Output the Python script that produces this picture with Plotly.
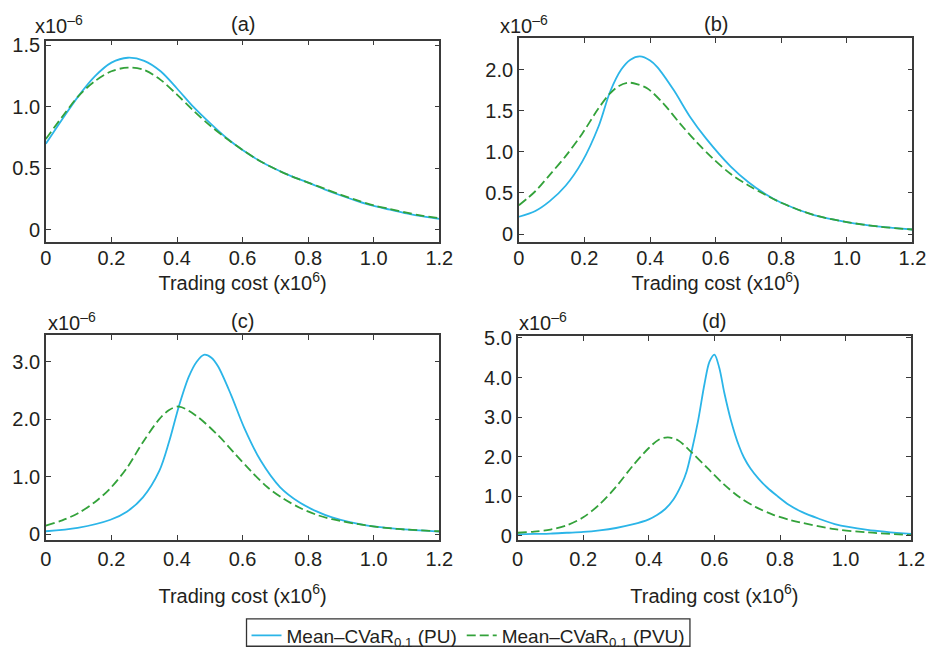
import plotly.graph_objects as go

# ---------------- data (values in units of 1e-6) ----------------
A_X = [0, 0.05, 0.1, 0.15, 0.2, 0.25, 0.3, 0.35, 0.4, 0.45, 0.5, 0.55, 0.6, 0.65,
       0.7, 0.75, 0.8, 0.85, 0.9, 0.95, 1.0, 1.05, 1.1, 1.15, 1.2]
A_PU = [0.70, 0.90, 1.09, 1.25, 1.36, 1.40, 1.375, 1.29, 1.15, 1.00, 0.87, 0.75, 0.65,
        0.565, 0.495, 0.435, 0.385, 0.33, 0.28, 0.235, 0.195, 0.165, 0.135, 0.11, 0.09]
A_PVU = [0.74, 0.92, 1.09, 1.21, 1.29, 1.32, 1.30, 1.22, 1.10, 0.97, 0.85, 0.745, 0.65,
         0.565, 0.495, 0.435, 0.385, 0.335, 0.285, 0.24, 0.20, 0.17, 0.14, 0.115, 0.095]

B_X_PU = [0, 0.05, 0.094, 0.143, 0.193, 0.243, 0.278, 0.312, 0.34, 0.369, 0.40, 0.422,
          0.472, 0.521, 0.571, 0.646, 0.7, 0.75, 0.8, 0.9, 1.0, 1.1, 1.2]
B_PU = [0.21, 0.28, 0.40, 0.59, 0.88, 1.31, 1.73, 2.00, 2.12, 2.16, 2.11, 2.03,
        1.75, 1.43, 1.16, 0.82, 0.63, 0.49, 0.38, 0.23, 0.145, 0.09, 0.055]
B_X_PVU = [0, 0.05, 0.094, 0.143, 0.193, 0.243, 0.278, 0.305, 0.334, 0.362, 0.392, 0.442,
           0.492, 0.541, 0.591, 0.646, 0.7, 0.75, 0.8, 0.9, 1.0, 1.1, 1.2]
B_PVU = [0.35, 0.52, 0.72, 0.95, 1.22, 1.53, 1.71, 1.80, 1.84, 1.82, 1.77, 1.58,
         1.34, 1.12, 0.92, 0.73, 0.59, 0.48, 0.38, 0.23, 0.145, 0.09, 0.055]

C_X_PU = [0, 0.097, 0.197, 0.247, 0.296, 0.346, 0.376, 0.406, 0.436, 0.46, 0.482,
          0.505, 0.525, 0.565, 0.605, 0.655, 0.714, 0.774, 0.824, 0.873, 0.973, 1.072, 1.2]
C_PU = [0.05, 0.11, 0.25, 0.39, 0.64, 1.10, 1.61, 2.23, 2.74, 3.0, 3.12,
        3.07, 2.92, 2.42, 1.85, 1.28, 0.82, 0.55, 0.40, 0.29, 0.155, 0.09, 0.045]
C_X_PVU = [0, 0.05, 0.097, 0.15, 0.197, 0.247, 0.296, 0.346, 0.376, 0.406, 0.456, 0.525,
           0.575, 0.625, 0.675, 0.724, 0.774, 0.824, 0.873, 0.973, 1.072, 1.2]
C_PVU = [0.15, 0.24, 0.36, 0.56, 0.80, 1.15, 1.60, 2.0, 2.16, 2.22, 2.07, 1.72,
         1.41, 1.10, 0.82, 0.62, 0.46, 0.34, 0.26, 0.155, 0.09, 0.05]

D_X_PU = [0, 0.05, 0.1, 0.15, 0.2, 0.25, 0.3, 0.35, 0.4, 0.425, 0.45, 0.475, 0.5, 0.515,
          0.53, 0.55, 0.57, 0.585, 0.6, 0.615, 0.63, 0.65, 0.675, 0.69, 0.71, 0.735, 0.76,
          0.79, 0.828, 0.868, 0.917, 0.967, 1.067, 1.2]
D_PU = [0.04, 0.05, 0.06, 0.08, 0.10, 0.14, 0.20, 0.29, 0.42, 0.53, 0.68, 0.92, 1.30, 1.62,
        2.12, 2.90, 3.85, 4.40, 4.58, 4.24, 3.62, 2.93, 2.27, 1.98, 1.70, 1.44, 1.23,
        1.02, 0.78, 0.60, 0.44, 0.30, 0.155, 0.05]
D_X_PVU = [0, 0.05, 0.1, 0.15, 0.2, 0.25, 0.3, 0.35, 0.4, 0.43, 0.458, 0.49, 0.529, 0.579,
           0.629, 0.678, 0.728, 0.778, 0.828, 0.868, 0.967, 1.067, 1.2]
D_PVU = [0.08, 0.11, 0.16, 0.27, 0.47, 0.80, 1.24, 1.76, 2.22, 2.43, 2.49, 2.41, 2.12, 1.71,
         1.30, 0.97, 0.72, 0.54, 0.41, 0.33, 0.17, 0.09, 0.02]

PANEL_TITLES = ["(a)", "(b)", "(c)", "(d)"]
SERIES_NAMES = ["Mean\u2013CVaR<sub>0.1</sub> (PU)", "Mean\u2013CVaR<sub>0.1</sub> (PVU)"]
X_TICKS = [0, 0.2, 0.4, 0.6, 0.8, 1.0, 1.2]
X_TICKTEXT = ["0", "0.2", "0.4", "0.6", "0.8", "1.0", "1.2"]
Y_TICKS = [[0, 0.5, 1.0, 1.5], [0, 0.5, 1.0, 1.5, 2.0], [0, 1.0, 2.0, 3.0],
           [0, 1.0, 2.0, 3.0, 4.0, 5.0]]
Y_TICKTEXT = [["0", "0.5", "1.0", "1.5"], ["0", "0.5", "1.0", "1.5", "2.0"],
              ["0", "1.0", "2.0", "3.0"], ["0", "1.0", "2.0", "3.0", "4.0", "5.0"]]
Y_RANGES = [[-0.1, 1.54], [-0.1, 2.38], [-0.1, 3.46], [-0.1, 5.05]]
X_TITLE = "Trading cost (x10<sup>6</sup>)"
SCALE_LABEL = "x10<sup>\u20136</sup>"

PANELS = [(A_X, A_PU, A_X, A_PVU), (B_X_PU, B_PU, B_X_PVU, B_PVU),
          (C_X_PU, C_PU, C_X_PVU, C_PVU), (D_X_PU, D_PU, D_X_PVU, D_PVU)]

# ---------------- layout geometry (pixels) ----------------
W, H = 947, 664
BOXES = [(40.7, 442.7, 32.3, 239), (524, 926, 30, 239),
         (40.7, 442.7, 334.3, 544), (522.7, 924.7, 335, 544)]
SCALE_POS = [(28, 16), (503, 16), (41, 320), (522, 320)]
TITLE_Y = [15, 15, 320, 320]
TICK_STANDOFF = [-3, -3, 0, 0]
TITLE_STANDOFF = [3, 3, 20, 20]
LEGEND_BOX = (245.7, 698.7, 625, 653)
LEGEND_CENTER = (472.5, 642)

BLUE = "#2BB5E8"
GREEN = "#33A23A"
TXT = "#231F20"
AX = "#3a3a3a"
FONT = "Liberation Sans, Arial, sans-serif"
FS = 20
LEGEND_FS = 19

fig = go.Figure()
annotations = []
for i, (xp, yp, xv, yv) in enumerate(PANELS):
    sfx = "" if i == 0 else str(i + 1)
    fig.add_trace(go.Scatter(x=xp, y=yp, mode="lines", name=SERIES_NAMES[0],
                             line=dict(color=BLUE, width=1.8, shape="spline", smoothing=0.9),
                             showlegend=(i == 0), legendrank=1,
                             xaxis="x" + sfx, yaxis="y" + sfx))
    fig.add_trace(go.Scatter(x=xv, y=yv, mode="lines", name=SERIES_NAMES[1],
                             line=dict(color=GREEN, width=1.8, dash="9px,4px",
                                       shape="spline", smoothing=0.9),
                             showlegend=(i == 0), legendrank=2,
                             xaxis="x" + sfx, yaxis="y" + sfx))
    x0, x1, y0, y1 = BOXES[i]
    xd = [x0 / W, x1 / W]
    yd = [1 - y1 / H, 1 - y0 / H]
    common = dict(showline=True, mirror="ticks", linecolor=AX, linewidth=1.5,
                  ticks="inside", ticklen=5, tickwidth=1.3, tickcolor=AX,
                  showgrid=False, zeroline=False,
                  tickfont=dict(family=FONT, size=FS, color=TXT))
    fig.layout["xaxis" + sfx] = dict(domain=xd, range=[0, 1.2], tickvals=X_TICKS,
                                     ticktext=X_TICKTEXT, anchor="y" + sfx,
                                     ticklabelstandoff=TICK_STANDOFF[i],
                                     title=dict(text=X_TITLE, standoff=TITLE_STANDOFF[i],
                                                font=dict(family=FONT, size=FS, color=TXT)),
                                     **common)
    fig.layout["yaxis" + sfx] = dict(domain=yd, range=Y_RANGES[i], tickvals=Y_TICKS[i],
                                     ticktext=Y_TICKTEXT[i], anchor="x" + sfx, **common)
    annotations.append(dict(text=PANEL_TITLES[i], x=(xd[0] + xd[1]) / 2, y=1 - TITLE_Y[i] / H,
                            xref="paper", yref="paper", showarrow=False,
                            xanchor="center", yanchor="middle",
                            font=dict(family=FONT, size=FS, color=TXT)))
    sx, sy = SCALE_POS[i]
    annotations.append(dict(text=SCALE_LABEL, x=sx / W, y=1 - sy / H,
                            xref="paper", yref="paper", showarrow=False,
                            xanchor="left", yanchor="middle",
                            font=dict(family=FONT, size=FS, color=TXT)))

lx0, lx1, ly0, ly1 = LEGEND_BOX
fig.update_layout(
    width=W, height=H,
    margin=dict(l=0, r=0, t=0, b=0),
    paper_bgcolor="white", plot_bgcolor="white",
    annotations=annotations,
    shapes=[dict(type="rect", xref="paper", yref="paper",
                 x0=lx0 / W, x1=lx1 / W, y0=1 - ly1 / H, y1=1 - ly0 / H,
                 line=dict(color="#333", width=1.3), fillcolor="rgba(0,0,0,0)")],
    showlegend=True,
    legend=dict(orientation="h", x=LEGEND_CENTER[0] / W, y=1 - LEGEND_CENTER[1] / H,
                xanchor="center", yanchor="middle", borderwidth=0,
                bgcolor="rgba(0,0,0,0)", font=dict(family=FONT, size=LEGEND_FS, color=TXT),
                itemwidth=30, tracegroupgap=0),
)

fig.write_html("out.html")
